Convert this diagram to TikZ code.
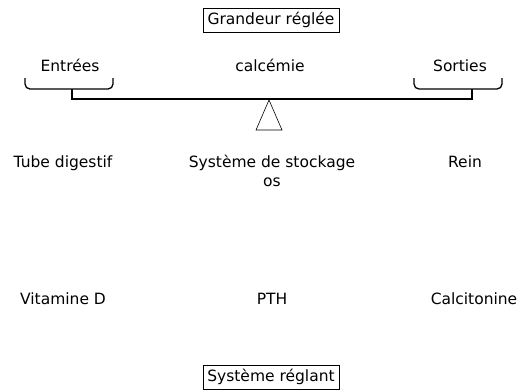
\documentclass[tikz,border=0pt]{standalone}
\usepackage{fontspec}
\setmainfont{DejaVu Sans}
\begin{document}
\begin{tikzpicture}[x=1pt,y=-1pt,
  lbl/.style={font=\fontsize{15.5}{18}\selectfont, inner sep=0pt, text height=11.5pt, text depth=3.5pt, anchor=center},
  boxed/.style={lbl, draw, line width=0.7pt, minimum width=136pt, minimum height=24pt},
  beam/.style={line width=1.3pt},
  brace/.style={line width=1.3pt, rounded corners=5pt}]
\useasboundingbox (0,0) rectangle (518,389);
\node[boxed] (grand) at (271,20) {Grandeur réglée};
\node[lbl] (entrees) at (70,67) {Entrées};
\node[lbl] (calc) at (270,67) {calcémie};
\node[lbl] (sorties) at (460,67) {Sorties};
% braces
\draw[brace] (25,78) -- (25,89) -- (113,89) -- (113,78);
\draw[brace] (414,78) -- (414,89) -- (502,89) -- (502,78);
\coordinate (lstem) at (72,89);
\coordinate (rstem) at (472,89);
\coordinate (lend) at (72,99);
\coordinate (rend) at (472,99);
\draw[beam] (lstem) -- (lend) -- (rend) -- (rstem);
% fulcrum
\coordinate (apex) at (269,100);
\draw[line width=0.6pt] (apex) -- (256,130) -- (282,130) -- cycle;
\node[lbl] (tube) at (63,163) {Tube digestif};
\node[lbl] (stock) at (272,163) {Système de stockage};
\node[lbl] (os) at (272,182) {os};
\node[lbl] (rein) at (465,163) {Rein};
\node[lbl] (vitd) at (63,300) {Vitamine D};
\node[lbl] (pth) at (272,300) {PTH};
\node[lbl] (calci) at (474,300) {Calcitonine};
\node[boxed] (regl) at (271,377) {Système réglant};
\end{tikzpicture}
\end{document}
